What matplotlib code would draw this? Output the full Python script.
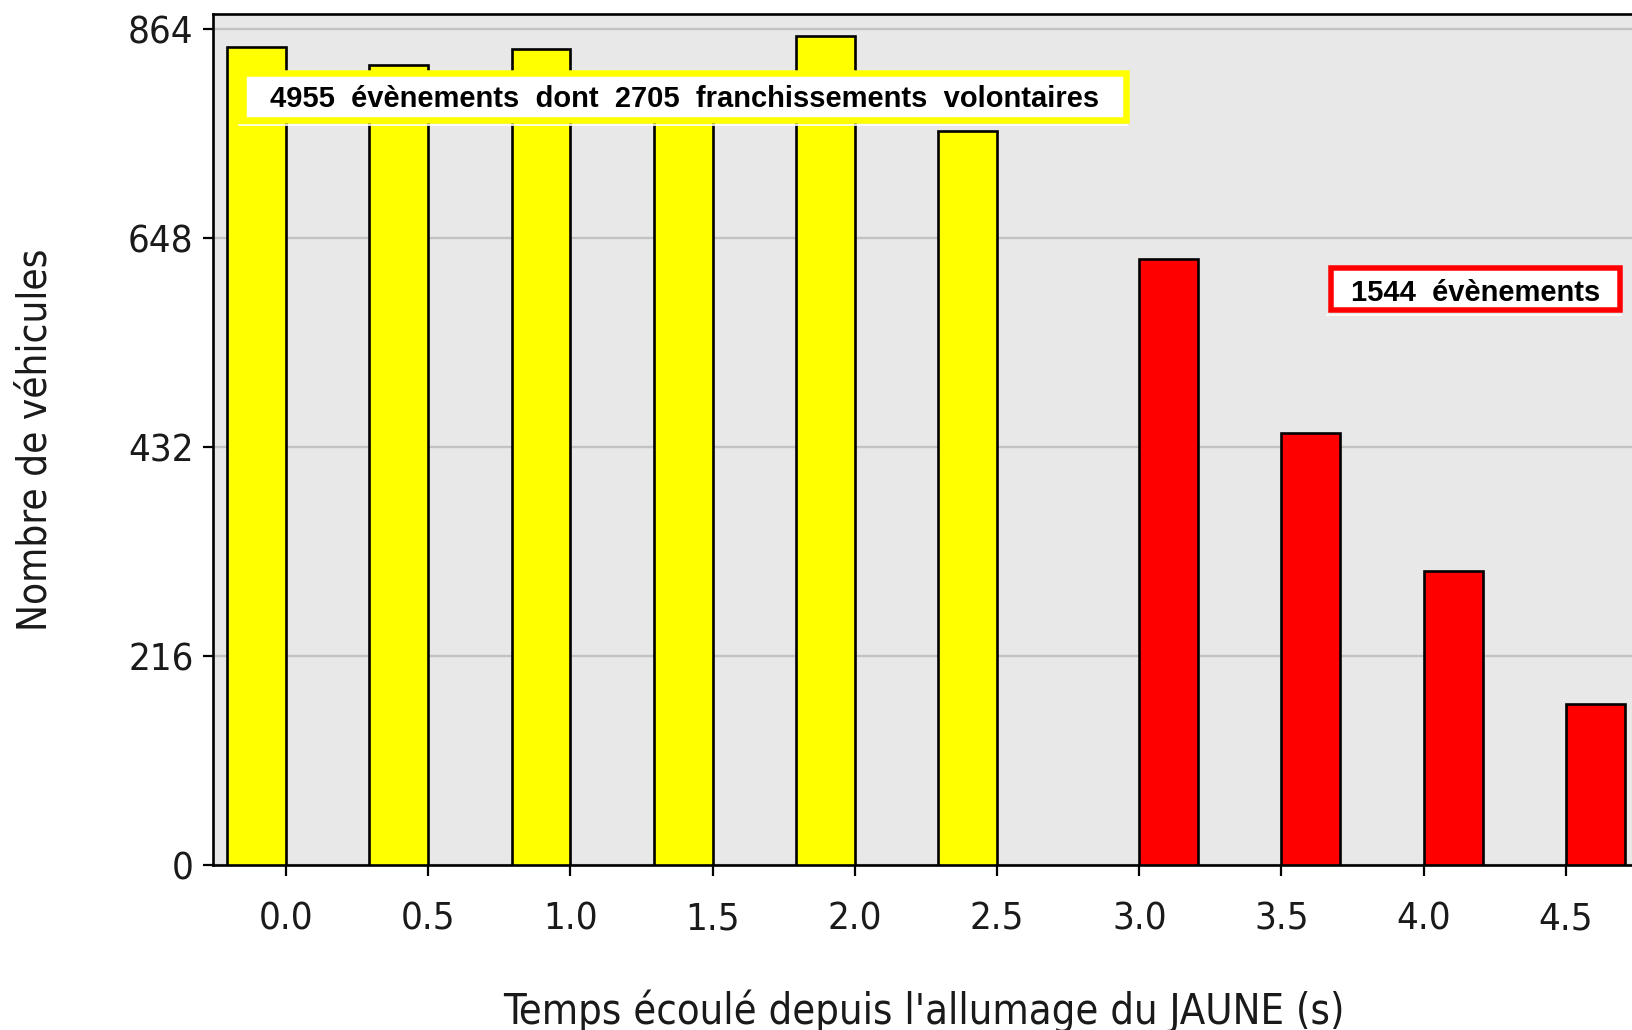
import matplotlib
matplotlib.use('Agg')
import matplotlib.pyplot as plt
from matplotlib import font_manager as fm
from matplotlib.patches import Rectangle
from matplotlib.lines import Line2D

# ---------------- data ----------------
times_yellow = [0.0, 0.5, 1.0, 1.5, 2.0, 2.5]
counts_yellow = [846, 827, 844, 818, 857, 759]
times_red = [3.0, 3.5, 4.0, 4.5]
counts_red = [627, 447, 304, 166]
y_ticks = [0, 216, 432, 648, 864]
x_ticks = [0.0, 0.5, 1.0, 1.5, 2.0, 2.5, 3.0, 3.5, 4.0, 4.5]
x_tick_labels = ['0.0', '0.5', '1.0', '1.5', '2.0', '2.5', '3.0', '3.5', '4.0', '4.5']
label_yellow = "4955  évènements  dont  2705  franchissements  volontaires"
label_red = "1544  évènements"
x_title = "Temps écoulé depuis l'allumage du JAUNE (s)"
y_title = "Nombre de véhicules"

# ---------------- fonts ----------------
def regular_font(size):
    for f in fm.fontManager.ttflist:
        if f.fname.endswith('DejaVuSansCondensed.ttf'):
            return fm.FontProperties(fname=f.fname, size=size)
    for f in fm.fontManager.ttflist:
        if f.fname.endswith('LiberationSansNarrow-Regular.ttf'):
            return fm.FontProperties(fname=f.fname, size=size * 1.12)
    return fm.FontProperties(family='DejaVu Sans', size=size * 0.9)

bold_font = fm.FontProperties(family=['Liberation Sans', 'DejaVu Sans'], weight='bold', size=21)

W, H = 1633, 1030
fig = plt.figure(figsize=(W / 100, H / 100), dpi=100)

AX_L, AX_T, AX_R, AX_B = 213, 14, 1635, 865
ax = fig.add_axes([AX_L / W, (H - AX_B) / H, (AX_R - AX_L) / W, (AX_B - AX_T) / H])
ax.set_facecolor('#E8E8E8')

ax.bar(times_yellow, counts_yellow, width=-0.207, align='edge', color='#FFFF00',
       edgecolor='black', linewidth=1.9, zorder=3)
ax.bar(times_red, counts_red, width=0.207, align='edge', color='#FF0000',
       edgecolor='black', linewidth=1.9, zorder=3)

ax.set_xlim(-0.257, 4.743)
ax.set_ylim(0, 880)
ax.set_yticks(y_ticks)
ax.set_xticks(x_ticks)
ax.set_xticklabels(x_tick_labels)
ax.yaxis.grid(True, color='#C2C2C2', linewidth=1.7)
ax.xaxis.grid(False)
ax.set_axisbelow(True)
for s in ['left', 'top', 'bottom']:
    ax.spines[s].set_linewidth(1.9)
    ax.spines[s].set_color('black')
ax.spines['right'].set_visible(False)

ax.tick_params(axis='y', length=7.5, width=1.6, pad=6.5, colors='black')
ax.tick_params(axis='x', length=8, width=1.6, pad=18, colors='black')
tick_fp = regular_font(27.5)
for lbl in ax.get_xticklabels() + ax.get_yticklabels():
    lbl.set_fontproperties(tick_fp)
    lbl.set_color('#1a1a1a')

ax.set_xlabel(x_title, fontproperties=regular_font(29.9), color='#1a1a1a')
ax.xaxis.label.set_va('baseline')
ax.xaxis.set_label_coords(0.5, (AX_B - 1024) / (AX_B - AX_T))

ax.set_ylabel(y_title, fontproperties=regular_font(29), color='#1a1a1a')
ax.yaxis.label.set_rotation_mode('anchor')
ax.yaxis.label.set_va('baseline')
ax.yaxis.label.set_ha('center')
ax.yaxis.set_label_coords((47 - AX_L) / (AX_R - AX_L), 0.5)

# ---------------- annotation boxes ----------------
def fx(x):
    return x / W

def fy(y):
    return 1 - y / H

def box(x0, y0, x1, y1, color, lw_px):
    h = lw_px / 2
    r = Rectangle((fx(x0 + h), fy(y1 - h)), (x1 - x0 - lw_px) / W, (y1 - y0 - lw_px) / H,
                  transform=fig.transFigure, facecolor='white', edgecolor=color,
                  linewidth=lw_px * 0.72, zorder=4)
    fig.add_artist(r)
    ln = Line2D([fx(x0 - 1), fx(x1 - 2)], [fy(y1 + 1.5), fy(y1 + 1.5)],
                transform=fig.transFigure, color='white', linewidth=1.2, zorder=4)
    fig.add_artist(ln)

box(240, 70, 1129, 123, '#FFFF00', 6.5)
fig.text(fx(684.5), fy(107), label_yellow, ha='center', va='baseline',
         fontproperties=bold_font, color='black', zorder=5)

box(1328, 265, 1623, 313, '#FF0000', 5.5)
fig.text(fx(1475.5), fy(301.5), label_red, ha='center', va='baseline',
         fontproperties=bold_font, color='black', zorder=5)

fig.savefig('out.png', dpi=100)
